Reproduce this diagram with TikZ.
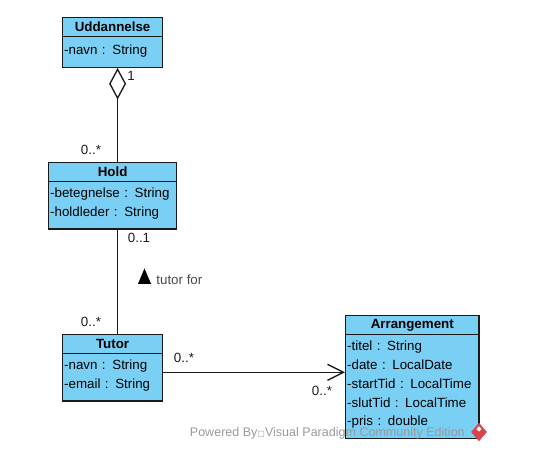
\documentclass[tikz,border=0pt]{standalone}
\usepackage{fontspec}
\setmainfont{Liberation Sans}
\newfontfamily\symbolfont{DejaVu Sans}
\usetikzlibrary{positioning,shapes.geometric,arrows.meta}
\definecolor{classblue}{HTML}{7ACFF5}
\definecolor{edge}{HTML}{1A1A1A}
\definecolor{mark}{HTML}{D8444A}
\newcommand{\classbox}[6]{%
  \node(#1)[classhead,minimum width=#4,anchor=north west] at (#2,#3){#5};
  \node(#1b)[classbody,text width=#4-2.4pt,minimum width=#4,below=-0.9pt of #1]{\rule{0pt}{8.25pt}#6\rule[-5.25pt]{0pt}{5.25pt}};}

\begin{document}
\begin{tikzpicture}[
        x=0.75pt,y=-0.75pt,
        every node/.style={font=\fontsize{10}{14.05}\selectfont},
        classhead/.style={rectangle,draw=edge,fill=classblue,line width=0.9pt,
                     minimum height=14.25pt,inner sep=0pt,font=\fontsize{10}{12}\selectfont\bfseries},
        classbody/.style={rectangle,draw=edge,fill=classblue,line width=0.9pt,
                     anchor=north,align=left,inner xsep=1.2pt,inner ysep=4pt,minimum height=23.4pt},
        link/.style={draw=edge,line width=1pt},
        mult/.style={inner sep=0pt,text=edge},
      ]
      \useasboundingbox (0,0) rectangle (535,470);

      % classes
      \classbox{uddannelse}{62}{17}{75pt}{Uddannelse}{-navn : String};
      \classbox{hold}{48}{162}{96pt}{Hold}{-betegnelse : String\\-holdleder : String};
      \classbox{tutor}{62}{334}{75pt}{Tutor}{-navn : String\\-email : String};
      \classbox{arrangement}{345}{315}{100pt}{Arrangement}{-titel : String\\-date : LocalDate\\-startTid : LocalTime\\-slutTid : LocalTime\\-pris : double};

      % aggregation: Uddannelse - Hold
      \node(whole)[diamond,draw=edge,fill=white,line width=1pt,inner sep=0pt,
                   minimum width=12pt,minimum height=22pt,anchor=north] at ([xshift=3.75pt]uddannelseb.south){};
      \draw[link] (whole.south) -- (whole.south |- hold.north);
      \node(uddone)[mult] at (131,76){1};
      \node(holdmany)[mult] at (91,150){0..*};

      % association: Hold - Tutor
      \draw[link] (whole.south |- holdb.south) -- (whole.south |- tutor.north);
      \node(holdzero)[mult] at (139,238){0..1};
      \node(tutormany)[mult] at (91,322){0..*};
      \node(dirmark)[isosceles triangle,isosceles triangle apex angle=46,shape border rotate=90,
                     fill=black,inner sep=0pt,minimum height=11.5pt,minimum width=9.75pt] at (144.5,279.5){};
      \node(tutorfor)[text=edge!80,inner sep=0pt,right=5pt of dirmark]{tutor for};

      % association: Tutor -> Arrangement
      \draw[link,-{Straight Barb[length=12pt,width=12pt,line width=1pt]}]
        ([yshift=3.75pt]tutorb.east) -- ([yshift=3.75pt]tutorb.east -| arrangementb.west);
      \node(tutorarr)[mult] at (184,358){0..*};
      \node(arrmany)[mult] at (322,391){0..*};

      % watermark
      \node(powered)[inner sep=0pt,text=black!40,anchor=east,font=\fontsize{9.4}{12}\selectfont] at (465,433){Powered By{\symbolfont\fontsize{6}{12}\selectfont □}Visual Paradigm Community Edition};
      \node(logo)[diamond,fill=mark,inner sep=0pt,minimum width=12pt,minimum height=14pt] at (479,432){};
      \node(logomid)[diamond,fill=white,inner sep=0pt,minimum size=4pt] at (479,429){};
\end{tikzpicture}
\end{document}
